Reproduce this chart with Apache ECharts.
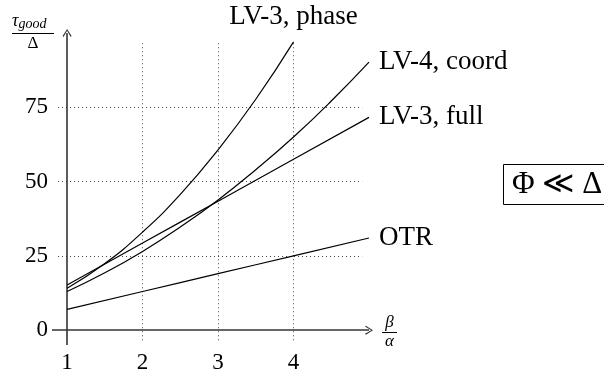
<!DOCTYPE html>
<html>
<head>
<meta charset="utf-8">
<script src="https://cdn.jsdelivr.net/npm/echarts@6/dist/echarts.min.js"></script>
<style>
html,body{margin:0;padding:0;background:#fff;}
#chart{width:604px;height:374px;}
</style>
</head>
<body>
<div id="chart"></div>
<script>
// ---- data ----
const xTicks = [1, 2, 3, 4];
const yTicks = [0, 25, 50, 75];
const phase = [[1, 14.1], [1.5, 22.4], [2, 33], [2.5, 45.7], [3, 60.7], [3.5, 77.7], [4, 97]];
const coord = [[1, 13], [1.5, 19.3], [2, 26.5], [2.5, 34.7], [3, 43.8], [3.5, 54], [4, 65], [4.5, 77.1], [5, 90.2]];
const full = [[1, 15.2], [2, 29.3], [3, 43.4], [4, 57.5], [5, 71.6]];
const otr = [[1, 7], [2, 13], [3, 19], [4, 25], [5, 31]];
const seriesNames = ['LV-3, phase', 'LV-4, coord', 'LV-3, full', 'OTR'];
const xRange = [0.8, 5];
const yRange = [-5, 100];
const gridX = [0.88, 4.91];
const gridY = [-3.4, 97.3];
const originX = 1;

const serif = '"Liberation Serif", "DejaVu Serif", serif';
const chart = echarts.init(document.getElementById('chart'), null, {renderer: 'canvas'});

const arrowPath = 'path://M5,0 L10,8 L9,9 L5,2 L1,9 L0,8 Z';

const gridLines = [];
yTicks.filter(v => v !== 0).forEach(v => gridLines.push([{coord: [gridX[0], v]}, {coord: [gridX[1], v]}]));
xTicks.filter(v => v !== originX).forEach(v => gridLines.push([{coord: [v, gridY[0]]}, {coord: [v, gridY[1]]}]));

function curve(name, data, label) {
  return {
    type: 'line', name: name, data: data, smooth: true, showSymbol: false, symbol: 'none',
    clip: false, silent: true, z: 5,
    lineStyle: {color: '#000', width: 1.2},
    endLabel: Object.assign({show: true, formatter: name, color: '#000', fontFamily: serif, fontSize: 27, distance: 10}, label || {})
  };
}

const option = {
  animation: false,
  backgroundColor: '#fff',
  grid: {left: 52, top: 33, width: 317, height: 317, containLabel: false},
  xAxis: {
    type: 'value', min: xRange[0], max: xRange[1],
    axisLine: {show: false}, axisTick: {show: false}, splitLine: {show: false},
    axisLabel: {customValues: xTicks, color: '#000', fontFamily: serif, fontSize: 23, margin: 6}
  },
  yAxis: {
    type: 'value', min: yRange[0], max: yRange[1],
    axisLine: {show: false}, axisTick: {show: false}, splitLine: {show: false},
    axisLabel: {customValues: yTicks, color: '#000', fontFamily: serif, fontSize: 23, margin: 4}
  },
  series: [
    {
      type: 'line', data: [], silent: true, clip: false, z: 1,
      markLine: {
        silent: true, symbol: 'none', label: {show: false},
        lineStyle: {color: '#444', width: 1, type: [1, 3]},
        data: gridLines
      }
    },
    {
      type: 'line', data: [], silent: true, clip: false, z: 2,
      markLine: {
        silent: true, symbol: ['none', arrowPath], symbolSize: [9, 8], label: {show: false},
        lineStyle: {color: '#333', width: 1.6, type: 'solid'},
        data: [
          [{coord: [originX, yRange[0]]}, {coord: [originX, yRange[1]]}],
          [{coord: [xRange[0], 0]}, {coord: [xRange[1], 0]}]
        ]
      }
    },
    curve(seriesNames[0], phase, {align: 'center', verticalAlign: 'bottom', offset: [-10, -12]}),
    curve(seriesNames[1], coord),
    curve(seriesNames[2], full),
    curve(seriesNames[3], otr)
  ],
  graphic: [
    // y-axis title: tau_good / Delta
    {type: 'text', left: 12, top: 12, style: {
      text: '{t|τ}{s|good}', rich: {
        t: {fontFamily: serif, fontStyle: 'italic', fontSize: 18, fill: '#000'},
        s: {fontFamily: serif, fontStyle: 'italic', fontSize: 14, fill: '#000', padding: [6, 0, 0, 0]}
      }}},
    {type: 'line', shape: {x1: 12, y1: 33.5, x2: 54, y2: 33.5}, style: {stroke: '#000', lineWidth: 1}},
    {type: 'text', x: 33, y: 35, style: {text: 'Δ', fontFamily: serif, fontSize: 17, fill: '#000', align: 'center', verticalAlign: 'top'}},
    // x-axis title: beta / alpha
    {type: 'text', x: 389.5, y: 331, style: {text: 'β', fontFamily: serif, fontStyle: 'italic', fontSize: 17, fill: '#000', align: 'center', verticalAlign: 'bottom'}},
    {type: 'line', shape: {x1: 382, y1: 332.5, x2: 397, y2: 332.5}, style: {stroke: '#000', lineWidth: 1}},
    {type: 'text', x: 389.5, y: 333, style: {text: 'α', fontFamily: serif, fontStyle: 'italic', fontSize: 17, fill: '#000', align: 'center', verticalAlign: 'top'}},
    // boxed note
    {type: 'rect', shape: {x: 503.5, y: 164.5, width: 120, height: 40}, style: {fill: '#fff', stroke: '#000', lineWidth: 1}},
    {type: 'text', x: 512, y: 185, style: {text: 'Φ ≪ Δ', fontFamily: serif, fontSize: 31, fill: '#000', align: 'left', verticalAlign: 'middle'}}
  ]
};
chart.setOption(option);
</script>
</body>
</html>
